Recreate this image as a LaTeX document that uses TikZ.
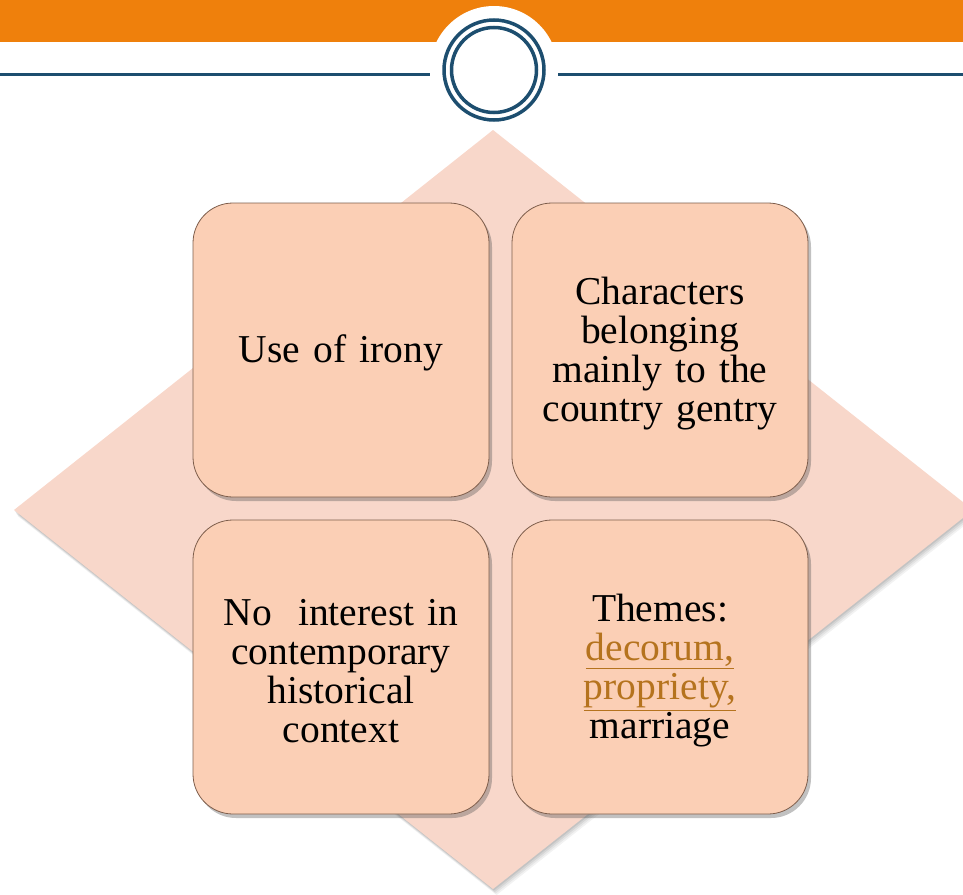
\documentclass[tikz,border=0pt]{standalone}
\usepackage{fontspec}
\setmainfont{Liberation Serif}
\usetikzlibrary{shadows}
\definecolor{barorange}{HTML}{EF800C}
\definecolor{ringblue}{HTML}{1D4E6F}
\definecolor{diamondfill}{HTML}{F8D7CA}
\definecolor{boxfill}{HTML}{FBCFB5}
\definecolor{boxedge}{HTML}{7E5E4C}
\definecolor{linkgold}{HTML}{B5731E}
\tikzset{
  card/.style={draw=boxedge, line width=0.8pt, fill=boxfill, rounded corners=40pt,
    minimum width=296pt, minimum height=294pt,
    drop shadow={shadow xshift=3pt, shadow yshift=-4pt, opacity=0.35, fill=black!70}},
  cardtext/.style={text width=280pt, align=center, inner sep=0pt,
    font=\fontsize{39.5}{39}\selectfont},
  ring/.style={draw=ringblue, line width=3.5pt, fill=none},
}
\newcommand{\linkword}[1]{\textcolor{linkgold}{\underline{#1}}}
\begin{document}
\begin{tikzpicture}[x=1pt,y=-1pt]
\useasboundingbox (0,0) rectangle (963,894);
\clip (0,0) rectangle (963,894);
% header
\fill[barorange] (0,0) rectangle (963,42);
\draw[ringblue, line width=3pt] (0,74) -- (430,74);
\draw[ringblue, line width=3pt] (558,74) -- (963,74);
\fill[white] (494,70) circle[radius=64];
\node[ring, circle, minimum size=100pt, inner sep=0pt] (outerring) at (494,70) {};
\node[ring, circle, minimum size=85pt, inner sep=0pt] (innerring) at (494,70) {};
% diamond with soft shadow
\foreach \o/\a in {6/0.05,4.5/0.06,3/0.07,1.5/0.08}{
  \fill[black, opacity=\a] (493+\o*0.6,130+\o) -- (973+\o*0.6,510+\o) -- (493+\o*0.6,889+\o) -- (14+\o*0.6,510+\o) -- cycle;
}
\fill[diamondfill] (493,130) -- (973,510) -- (493,889) -- (14,510) -- cycle;
% cards
\node[card] (irony) at (341,350) {};
\node[card] (gentry) at (660,350) {};
\node[card] (context) at (341,667) {};
\node[card] (themes) at (660,667) {};
\node[cardtext] (ironytext) at ([yshift=-3pt]irony.center) {Use of irony};
\node[cardtext] (gentrytext) at ([yshift=-4pt]gentry.center) {Characters\\belonging\\mainly to the\\country gentry};
\node[cardtext] (contexttext) at ([yshift=-4pt]context.center) {No\ \ interest in\\contemporary\\historical\\context};
\node[cardtext] (themestext) at ([yshift=-4pt]themes.center) {Themes:\\\linkword{decorum,}\\\linkword{propriety,}\\marriage};
\end{tikzpicture}
\end{document}
